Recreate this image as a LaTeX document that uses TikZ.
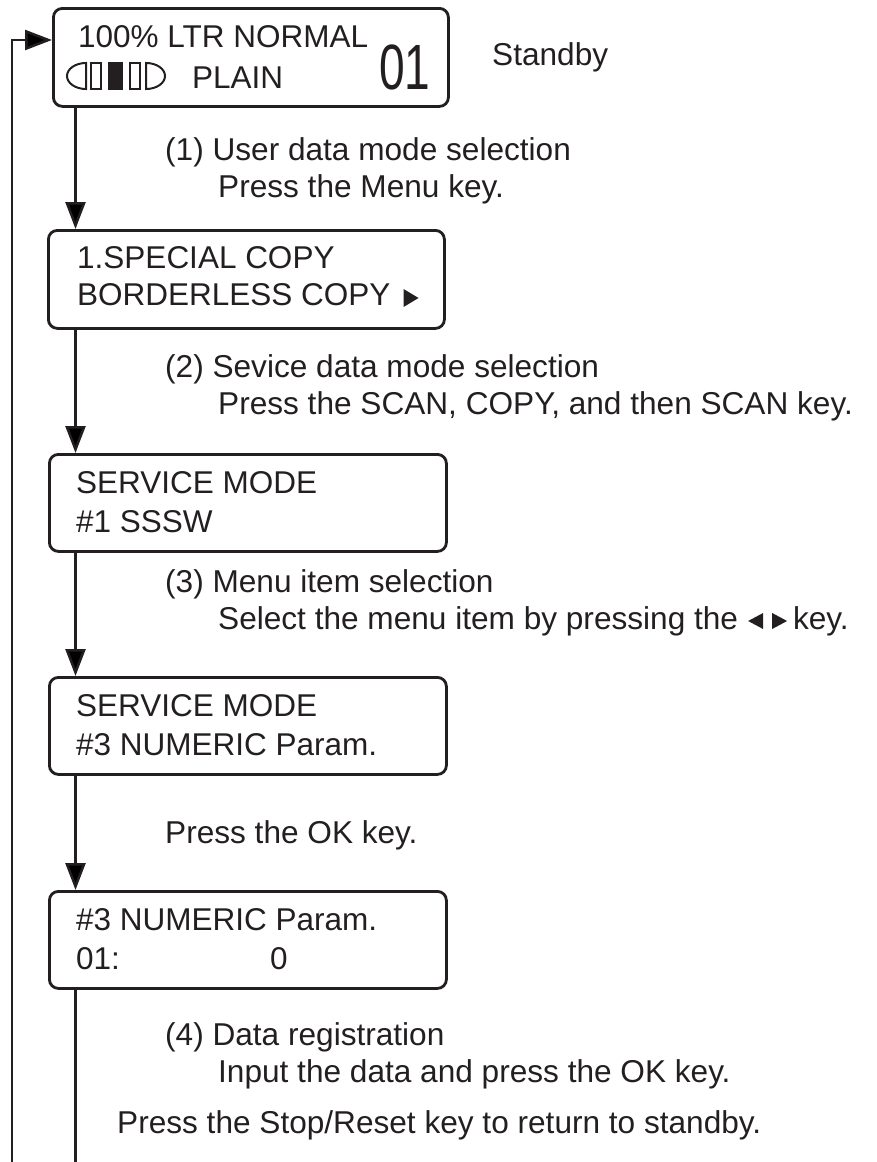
\documentclass[tikz,border=0pt]{standalone}
\usepackage{fontspec}
\setmainfont{Liberation Sans}
\usetikzlibrary{arrows.meta}
\definecolor{ink}{HTML}{231F20}
\newcommand\boxtri{\tikz[baseline=0pt]\fill[ink] (0pt,-2pt)--(0pt,16pt)--(15pt,7pt)--cycle;}
\newcommand\ltri{\tikz[baseline=0pt]\fill[ink] (15pt,0pt)--(15pt,16pt)--(0pt,8pt)--cycle;}
\newcommand\rtri{\tikz[baseline=0pt]\fill[ink] (0pt,0pt)--(0pt,16pt)--(15pt,8pt)--cycle;}
\begin{document}
\begin{tikzpicture}[x=1pt,y=-1pt,
  lcd/.style={draw=ink, line width=2.8pt, rounded corners=9pt, minimum height=97pt,
              anchor=north west, inner sep=0pt},
  txt/.style={anchor=base west, inner sep=0pt, text=ink, font=\fontsize{31.5}{37}\selectfont},
  lbl/.style={anchor=base west, inner sep=0pt, text=ink, font=\fontsize{31.6}{37}\selectfont},
  conn/.style={draw=ink, line width=2.5pt, -{Triangle[width=20pt,length=27pt]}},
  plainline/.style={draw=ink, line width=2.5pt},
  icon/.style={draw=ink, line width=2pt}]
\useasboundingbox (0,0) rectangle (877,1162);

% boxes
\node[lcd, minimum width=395pt, minimum height=98pt] (b1) at (52,7) {};
\node[lcd, minimum width=396pt, minimum height=98pt] (b2) at (47,229) {};
\node[lcd, minimum width=397pt] (b3) at (48,453) {};
\node[lcd, minimum width=397pt] (b4) at (48,676) {};
\node[lcd, minimum width=397pt] (b5) at (48,890) {};

% box 1 content
\node[txt] (t1a) at (78,47) {100\% LTR NORMAL};
\node[txt] (t1b) at (192,88) {PLAIN};
\node[txt, font=\fontsize{64}{64}\selectfont] (t1c) at (379,89) {\scalebox{0.72}[1]{01}};
\draw[icon] (86,63) .. controls (75.5,63) and (67,68.8) .. (67,76)
            .. controls (67,83.2) and (75.5,89) .. (86,89) -- cycle;
\draw[icon] (91,63) rectangle (101,89);
\fill[ink] (108,62) rectangle (123,90);
\draw[icon] (130,63) rectangle (140,89);
\draw[icon] (146,63) .. controls (156.5,63) and (165,68.8) .. (165,76)
            .. controls (165,83.2) and (156.5,89) .. (146,89) -- cycle;
\node[lbl] (stb) at (492,65) {Standby};

% box 2 content
\node[txt] (t2a) at (77,268) {1.SPECIAL COPY};
\node[txt] (t2b) at (77,305) {BORDERLESS COPY\hspace{13pt}\boxtri};

% box 3 content
\node[txt] (t3a) at (76,493) {SERVICE MODE};
\node[txt] (t3b) at (76,532) {\#1 SSSW};

% box 4 content
\node[txt] (t4a) at (76,716) {SERVICE MODE};
\node[txt] (t4b) at (76,755) {\#3 NUMERIC Param.};

% box 5 content
\node[txt] (t5a) at (76,930) {\#3 NUMERIC Param.};
\node[txt] (t5b) at (76,969) {01:};
\node[txt] (t5c) at (270,969) {0};

% step labels
\node[lbl] (l1a) at (165,160) {(1) User data mode selection};
\node[lbl] (l1b) at (218,197) {Press the Menu key.};
\node[lbl] (l2a) at (165,377) {(2) Sevice data mode selection};
\node[lbl] (l2b) at (218,414) {Press the SCAN, COPY, and then SCAN key.};
\node[lbl] (l3a) at (165,592) {(3) Menu item selection};
\node[lbl] (l3b) at (218,629) {Select the menu item by pressing the\hspace{10pt}\ltri\hspace{9pt}\rtri\hspace{6pt}key.};
\node[lbl] (l4) at (165,843) {Press the OK key.};
\node[lbl] (l5a) at (165,1045) {(4) Data registration};
\node[lbl] (l5b) at (218,1082) {Input the data and press the OK key.};
\node[lbl] (l6) at (117,1133) {Press the Stop/Reset key to return to standby.};

% connectors
\coordinate (col) at (75.5,0);
\draw[conn] (b1.south -| col) -- (b2.north -| col);
\draw[conn] (b2.south -| col) -- (b3.north -| col);
\draw[conn] (b3.south -| col) -- (b4.north -| col);
\draw[conn] (b4.south -| col) -- (b5.north -| col);
\coordinate (out) at (75.5,1162);
\draw[plainline] (b5.south -| col) -- (out);
\coordinate (lb) at (12,1162);
\coordinate (lt) at (12,40);
\draw[conn] (lb) -- (lt) -- (lt -| b1.west);
\end{tikzpicture}
\end{document}
